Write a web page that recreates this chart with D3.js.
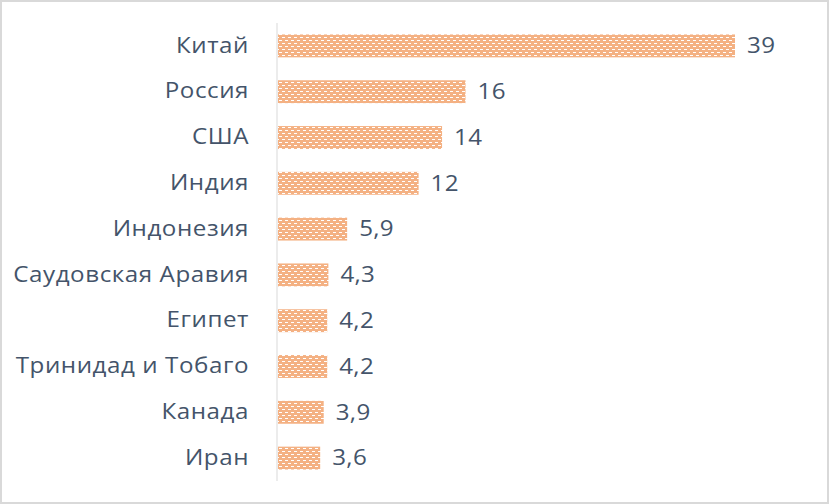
<!DOCTYPE html>
<html>
<head>
<meta charset="utf-8">
<script src="https://cdn.jsdelivr.net/npm/d3@7"></script>
<style>
  html, body { margin: 0; padding: 0; background: #fff; }
  svg { display: block; }
</style>
</head>
<body>
<svg id="chart" width="829" height="504"></svg>
<script>
(function(){
    'use strict';

    var countries = ['Китай', 'Россия', 'США', 'Индия', 'Индонезия', 'Саудовская Аравия',
        'Египет', 'Тринидад и Тобаго', 'Канада', 'Иран'];
    var values = [39, 16, 14, 12, 5.9, 4.3, 4.2, 4.2, 3.9, 3.6];

    var width = 829, height = 504;
    var margin = {top: 23, left: 278, right: 0, bottom: 23};
    var stretch = 1.15;   // the source lettering is wide
    var fmt = function(v) { return String(v).replace('.', ','); };

    var data = countries.map(function(c, i) { return {name: c, value: values[i]}; });

    var svg = d3.select('#chart');

    // hatched fill like the office "dotted grid" pattern
    var pat = svg.append('defs').append('pattern')
        .attr('id', 'hatch').attr('patternUnits', 'userSpaceOnUse')
        .attr('width', 6).attr('height', 6);
    pat.append('rect').attr('width', 6).attr('height', 6).attr('fill', '#F4B183');
    pat.append('rect').attr('x', 0).attr('y', 1).attr('width', 3).attr('height', 1).attr('fill', '#fff');
    pat.append('rect').attr('x', 3).attr('y', 4).attr('width', 3).attr('height', 1).attr('fill', '#fff');

    svg.append('rect')
        .attr('x', 1).attr('y', 1).attr('width', width - 2).attr('height', height - 2)
        .attr('fill', '#fff').attr('stroke', '#D9D9D9').attr('stroke-width', 2);

    var x = d3.scaleLinear().domain([0, 39]).range([margin.left, 735]);
    var y = d3.scaleBand().domain(countries)
        .range([margin.top, 481]).paddingInner(0.5).paddingOuter(0.25);

    svg.selectAll('.bar').data(data).enter().append('rect')
        .attr('class', 'bar')
        .attr('x', x(0))
        .attr('y', function(d) { return y(d.name); })
        .attr('width', function(d) { return x(d.value) - x(0); })
        .attr('height', y.bandwidth())
        .attr('fill', 'url(#hatch)');

    var yAxis = svg.append('g')
        .attr('transform', 'translate(' + (margin.left - 1) + ',0)')
        .call(d3.axisLeft(y).tickSize(0));
    yAxis.select('.domain').attr('stroke', '#D9D9D9').attr('stroke-width', 1)
        .attr('d', 'M0,' + margin.top + 'V481');
    yAxis.selectAll('text')
        .attr('x', -28 / stretch)
        .attr('transform', 'scale(' + stretch + ',1)')
        .attr('fill', '#44546A')
        .style('font-family', '"Open Sans", sans-serif')
        .style('font-size', '21px')
        .style('letter-spacing', '0.5px');

    svg.selectAll('.val').data(data).enter().append('text')
        .attr('class', 'val')
        .attr('transform', function(d) {
            return 'translate(' + (x(d.value) + 12) + ',' + (y(d.name) + y.bandwidth() / 2) + ') scale(' + stretch + ',1)';
        })
        .attr('dy', '0.35em')
        .attr('fill', '#44546A')
        .style('font-family', '"Open Sans", sans-serif')
        .style('font-size', '21px')
        .style('letter-spacing', '0.3px')
        .text(function(d) { return fmt(d.value); });
})();
</script>
</body>
</html>
